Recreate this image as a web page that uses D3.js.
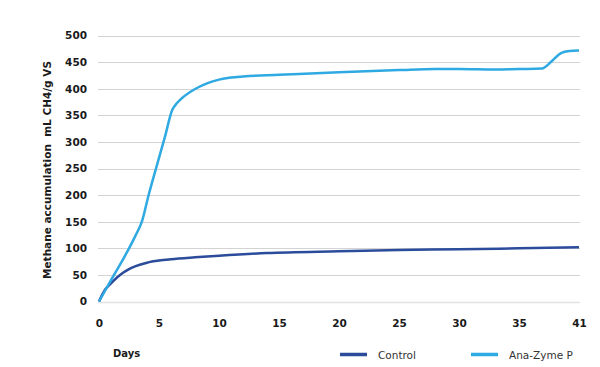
<!DOCTYPE html>
<html><head><meta charset="utf-8">
<script src="https://cdn.jsdelivr.net/npm/d3@7"></script>
<style>body{margin:0;background:#fff}svg{display:block}text{font-family:"DejaVu Sans",sans-serif}</style>
</head><body><svg id="c" width="600" height="367"></svg>
<script>
const xTickValues = [0,5,10,15,20,25,30,35,40];
const xTickLabels = ["0","5","10","15","20","25","30","35","41"];
const yTickValues = [0,50,100,150,200,250,300,350,400,450,500];
const seriesNames = ["Control","Ana-Zyme P"];
const seriesColors = ["#2b4b9b","#2ea9e1"];
const anaDays =  [0,1,2,3,3.6,4.1,4.8,5.5,6.1,6.5,6.9,7.9,9,10,11,12,15,20,25,28,30,33,35,36.9,37.7,38.5,39.2,40];
const anaVals =  [0,40,79,122,152,197,254,310,360,373,382,398,410,417,421,423,426,431,435,437,437,436,437,438,451,467,471,472];
const ctrlDays = [0,0.5,1,1.5,2,2.5,3,4,5,6,8,10,14,20,25,30,35,40];
const ctrlVals = [0,22,34,45,54,61,66,73,77,79.5,83,86,91,94.5,97,98,100,102];

const svg = d3.select("#c");
const x = d3.scaleLinear().domain([0,40]).range([99,579]);
const y = d3.scaleLinear().domain([0,500]).range([301.5,35.5]);

svg.append("g").selectAll("line").data(yTickValues).join("line")
  .attr("x1",98).attr("x2",580)
  .attr("y1",d=>Math.round(y(d))+0.5).attr("y2",d=>Math.round(y(d))+0.5)
  .attr("stroke",d=>d===0?"#e2e2e2":"#d3d3d3").attr("stroke-width",d=>d===0?1.5:1);

const yAxis = d3.axisLeft(y).tickValues(yTickValues).tickSize(0).tickPadding(0);
const gy = svg.append("g").attr("transform","translate(87,0)").call(yAxis);
gy.select(".domain").remove();
gy.selectAll("text").attr("font-size",10.5).attr("font-weight","bold").attr("fill","#1a1a1a").attr("font-family","'DejaVu Sans',sans-serif");

const xAxis = d3.axisBottom(x).tickValues(xTickValues).tickSize(0).tickPadding(0)
  .tickFormat((d,i)=>xTickLabels[i]);
const gx = svg.append("g").attr("transform","translate(0,320)").call(xAxis);
gx.select(".domain").remove();
gx.selectAll("text").attr("font-size",10.5).attr("font-weight","bold").attr("fill","#1a1a1a").attr("font-family","'DejaVu Sans',sans-serif");

const line = d3.line().x(d=>x(d[0])).y(d=>y(d[1])).curve(d3.curveMonotoneX);
const ctrl = ctrlDays.map((d,i)=>[d,ctrlVals[i]]);
const ana = anaDays.map((d,i)=>[d,anaVals[i]]);
svg.append("path").datum(ctrl).attr("d",line).attr("fill","none")
  .attr("stroke",seriesColors[0]).attr("stroke-width",2.5);
svg.append("path").datum(ana).attr("d",line).attr("fill","none")
  .attr("stroke",seriesColors[1]).attr("stroke-width",2.5);

svg.append("text").attr("transform","translate(51,170) rotate(-90)")
  .attr("text-anchor","middle").attr("font-size",10.5).attr("font-weight","bold").attr("fill","#1a1a1a")
  .attr("xml:space","preserve").text("Methane accumulation  mL CH4/g VS");
svg.append("text").attr("x",113).attr("y",357).attr("font-size",10).attr("font-weight","bold")
  .attr("fill","#1a1a1a").text("Days");

const legX = [340,471];
seriesNames.forEach((n,i)=>{
  svg.append("line").attr("x1",legX[i]).attr("x2",legX[i]+27).attr("y1",354.5).attr("y2",354.5)
    .attr("stroke",seriesColors[i]).attr("stroke-width",3.5);
  svg.append("text").attr("x",legX[i]+38).attr("y",358.5).attr("font-size",10.5)
    .attr("fill","#333").text(n);
});
</script></body></html>
